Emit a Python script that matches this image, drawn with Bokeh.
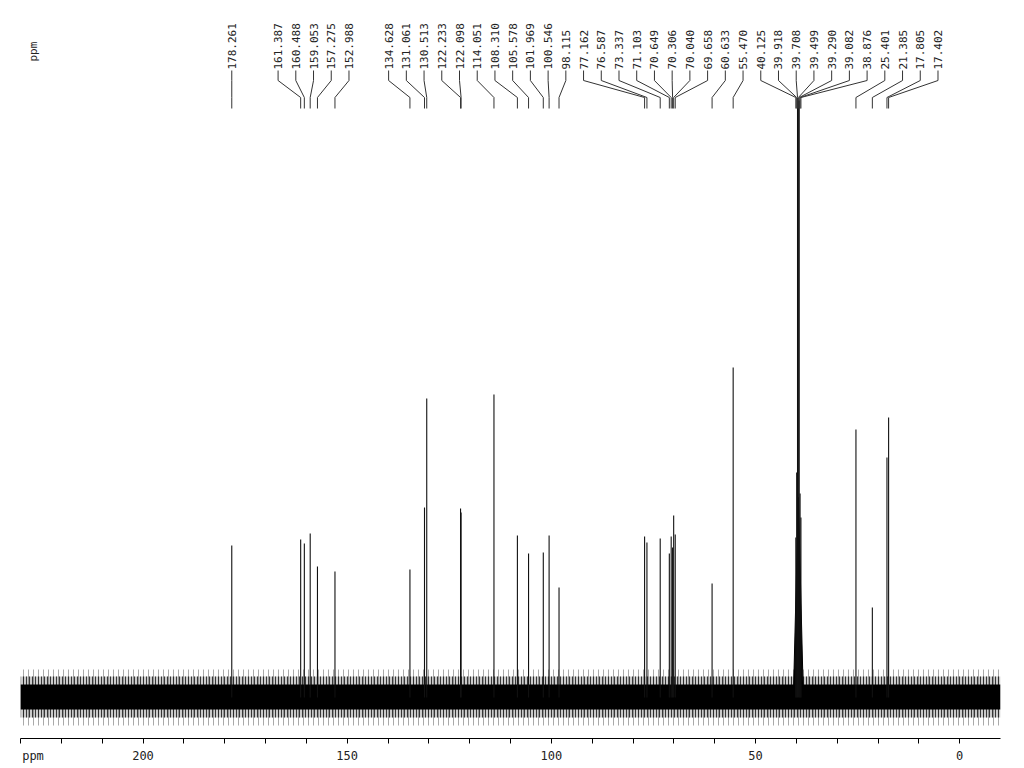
import numpy as np
from bokeh.plotting import figure
from bokeh.models import Range1d, FixedTicker, ColumnDataSource
from bokeh.embed import file_html
from bokeh.resources import INLINE
from bokeh.core.properties import value

# ---------------- data ----------------
shifts = [178.261, 161.387, 160.488, 159.053, 157.275, 152.988,
          134.628, 131.061, 130.513, 122.233, 122.098, 114.051,
          108.310, 105.578, 101.969, 100.546, 98.115,
          77.162, 76.587, 73.337, 71.103, 70.649, 70.306, 70.040, 69.658,
          60.633, 55.470,
          40.125, 39.918, 39.708, 39.499, 39.290, 39.082, 38.876,
          25.401, 21.385, 17.805, 17.402]
intensities = [152, 158, 154, 164, 131, 126,
               128, 190, 299, 189, 185, 303,
               162, 144, 145, 162, 110,
               161, 155, 159, 144, 161, 150, 182, 163,
               114, 330,
               160, 225, 597, 597, 597, 204, 180,
               268, 90, 240, 280]
label_texts = ["%.3f" % s for s in shifts]
solvent = [40.125, 39.918, 39.708, 39.499, 39.290, 39.082, 38.876]
solvent_base_height = 200
ticks = list(range(230, -1, -10))
tick_labels = {230: "\u00a0\u00a0\u00a0ppm", 200: "200", 150: "150", 100: "100", 50: "50", 0: "0"}

# ---------------- layout / style constants ----------------
X_START, X_END = 230, -10
Y_START, Y_END = -41, 689
LABEL_GAP = 4.34          # min label spacing in ppm (~17.7 px)
TEXT_Y = 628
CONN_Y = [627, 617, 600, 589]
FONT = "DejaVu Sans Mono"

# spread labels: merge overlapping groups, centre each on mean of its peaks
groups = []
for i, s in enumerate(shifts):
    groups.append([i])
    while len(groups) > 1:
        a, b = groups[-2], groups[-1]
        ca = np.mean([shifts[k] for k in a])
        cb = np.mean([shifts[k] for k in b])
        low_a = ca - (len(a) - 1) / 2 * LABEL_GAP
        high_b = cb + (len(b) - 1) / 2 * LABEL_GAP
        if low_a - high_b < LABEL_GAP:
            groups[-2:] = [a + b]
        else:
            break
label_x = [0.0] * len(shifts)
for g in groups:
    c = np.mean([shifts[k] for k in g])
    n = len(g)
    for j, k in enumerate(g):
        label_x[k] = c + ((n - 1) / 2 - j) * LABEL_GAP

p = figure(width=1024, height=766, output_backend="svg", toolbar_location=None,
           x_range=Range1d(X_START, X_END), y_range=Range1d(Y_START, Y_END),
           min_border_left=20, min_border_right=24, min_border_top=8,
           min_border_bottom=28, y_axis_location=None)
p.outline_line_color = None
p.xgrid.visible = False
p.ygrid.visible = False
p.background_fill_color = "white"
p.border_fill_color = "white"

# baseline noise band (drawn as layered, hatched bands)
p.varea(x=[X_START, X_END], y1=[-28, -28], y2=[28, 28], fill_color=None,
        hatch_pattern="|", hatch_color="#555555", hatch_scale=5, hatch_weight=1, hatch_alpha=0.5)
p.varea(x=[X_START, X_END], y1=[-20, -20], y2=[21, 21], fill_color="#666666", fill_alpha=0.35,
        hatch_pattern="|", hatch_color="#111111", hatch_scale=3, hatch_weight=1, hatch_alpha=0.8)
p.varea(x=[X_START, X_END], y1=[-12, -12], y2=[13, 13], fill_color="#000000", fill_alpha=1.0)

# solvent broad base
p.patch(x=[max(solvent) + 0.6, solvent[3], min(solvent) - 0.6],
        y=[0, solvent_base_height, 0], fill_color="black", line_color="black", line_width=1)

# peaks
src = ColumnDataSource(dict(x=shifts, y=intensities, z=[0] * len(shifts)))
p.segment(x0="x", y0="z", x1="x", y1="y", source=src, line_color="#111111", line_width=1.1)

# connectors
xs = [[lx, lx, s, s] for lx, s in zip(label_x, shifts)]
ys = [CONN_Y for _ in shifts]
p.multi_line(xs=xs, ys=ys, line_color="#333333", line_width=1)

# peak labels
lsrc = ColumnDataSource(dict(x=label_x, y=[TEXT_Y] * len(shifts), t=label_texts))
p.text(x="x", y="y", text="t", source=lsrc, angle=np.pi / 2, text_align="left",
       text_baseline="middle", text_font=value(FONT), text_font_size="11px",
       text_color="#222222")

# top-left ppm
p.text(x=[226.9], y=[636], text=["ppm"], angle=np.pi / 2, text_align="left",
       text_baseline="middle", text_font=value(FONT), text_font_size="11px",
       text_color="#222222")

# x axis
ax = p.xaxis[0]
ax.ticker = FixedTicker(ticks=ticks)
ax.major_label_overrides = {t: tick_labels.get(t, "") for t in ticks}
ax.minor_tick_line_color = None
ax.major_tick_in = 0
ax.major_tick_out = 5
ax.axis_line_color = "black"
ax.major_tick_line_color = "black"
ax.major_label_text_font = FONT
ax.major_label_text_font_size = "12px"
ax.major_label_text_color = "#222222"
ax.major_label_standoff = 5

open("out.html", "w").write(file_html(p, INLINE))
